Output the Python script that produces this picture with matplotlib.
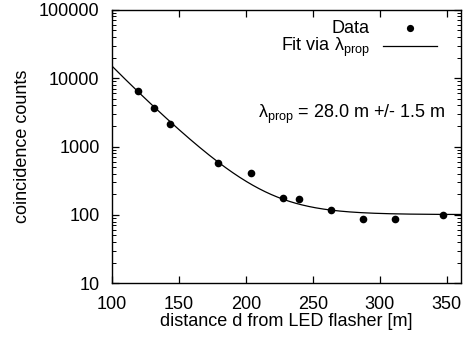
import numpy as np
import matplotlib
matplotlib.use("Agg")
import matplotlib.pyplot as plt
from matplotlib.ticker import LogLocator, NullFormatter, FixedLocator

plt.rcParams['font.family'] = ['Liberation Sans', 'DejaVu Sans']
plt.rcParams['mathtext.fontset'] = 'custom'
plt.rcParams['mathtext.rm'] = 'Liberation Sans'
plt.rcParams['mathtext.it'] = 'Liberation Sans'
plt.rcParams['font.size'] = 13

# Data
distance = [119.5, 131.2, 143.2, 179.4, 203.6, 227.4, 239.4, 263.3, 287.3, 311.3, 347.2]
counts = [6500, 3630, 2140, 565, 407, 174, 173, 117, 87, 87, 100]

# Fit parameters: N(d) = A * exp(-d/lambda) / d + C
fit_A = 5.3e7
fit_lambda = 28.0
fit_C = 101.0

xticks = [100, 150, 200, 250, 300, 350]
yticks = [10, 100, 1000, 10000, 100000]

FS = 13

fig = plt.figure(figsize=(4.67, 3.40), dpi=100)
ax = fig.add_axes([0.240, 0.167, 0.747, 0.804])

d_fit = np.linspace(100, 360.5, 400)
n_fit = fit_A * np.exp(-d_fit / fit_lambda) / d_fit + fit_C
ax.plot(d_fit, n_fit, color='black', lw=0.9)
ax.plot(distance, counts, 'o', color='black', ms=5.5, mew=0)

ax.set_yscale('log')
ax.set_xlim(100, 360.5)
ax.set_ylim(10, 100000)
ax.xaxis.set_major_locator(FixedLocator(xticks))
ax.yaxis.set_major_locator(FixedLocator(yticks))
ax.set_yticklabels([str(v) for v in yticks])
ax.yaxis.set_minor_locator(LogLocator(base=10, subs=np.arange(2, 10)))
ax.yaxis.set_minor_formatter(NullFormatter())
ax.tick_params(which='both', direction='in', top=True, right=True, color='black', labelsize=FS)
ax.tick_params(which='major', length=5, width=0.9)
ax.tick_params(which='minor', length=3, width=0.7)
ax.tick_params(axis='y', which='major', pad=9)
ax.tick_params(axis='x', which='major', pad=9.5)
ax.tick_params(axis='x', which='minor', top=False, bottom=False)
for s in ax.spines.values():
    s.set_linewidth(1.0)

ax.set_xlabel('distance d from LED flasher [m]', fontsize=FS, labelpad=0)
ax.set_ylabel('coincidence counts', fontsize=FS, labelpad=6)

# Legend (gnuplot style: right-aligned text then sample)
ax.text(0.738, 0.916, 'Data', transform=ax.transAxes, ha='right', va='baseline', fontsize=FS)
ax.plot([0.855], [0.935], 'o', color='black', ms=5.2, mew=0, transform=ax.transAxes)
ax.text(0.738, 0.851, r'Fit via $\lambda_{\rm prop}$', transform=ax.transAxes, ha='right', va='baseline', fontsize=FS)
ax.plot([0.776, 0.931], [0.866, 0.866], color='black', lw=0.9, transform=ax.transAxes)

ax.text(0.957, 0.606, r'$\lambda_{\rm prop}$ = 28.0 m +/- 1.5 m', transform=ax.transAxes,
        ha='right', va='baseline', fontsize=FS)

fig.savefig('out.png', dpi=100)
